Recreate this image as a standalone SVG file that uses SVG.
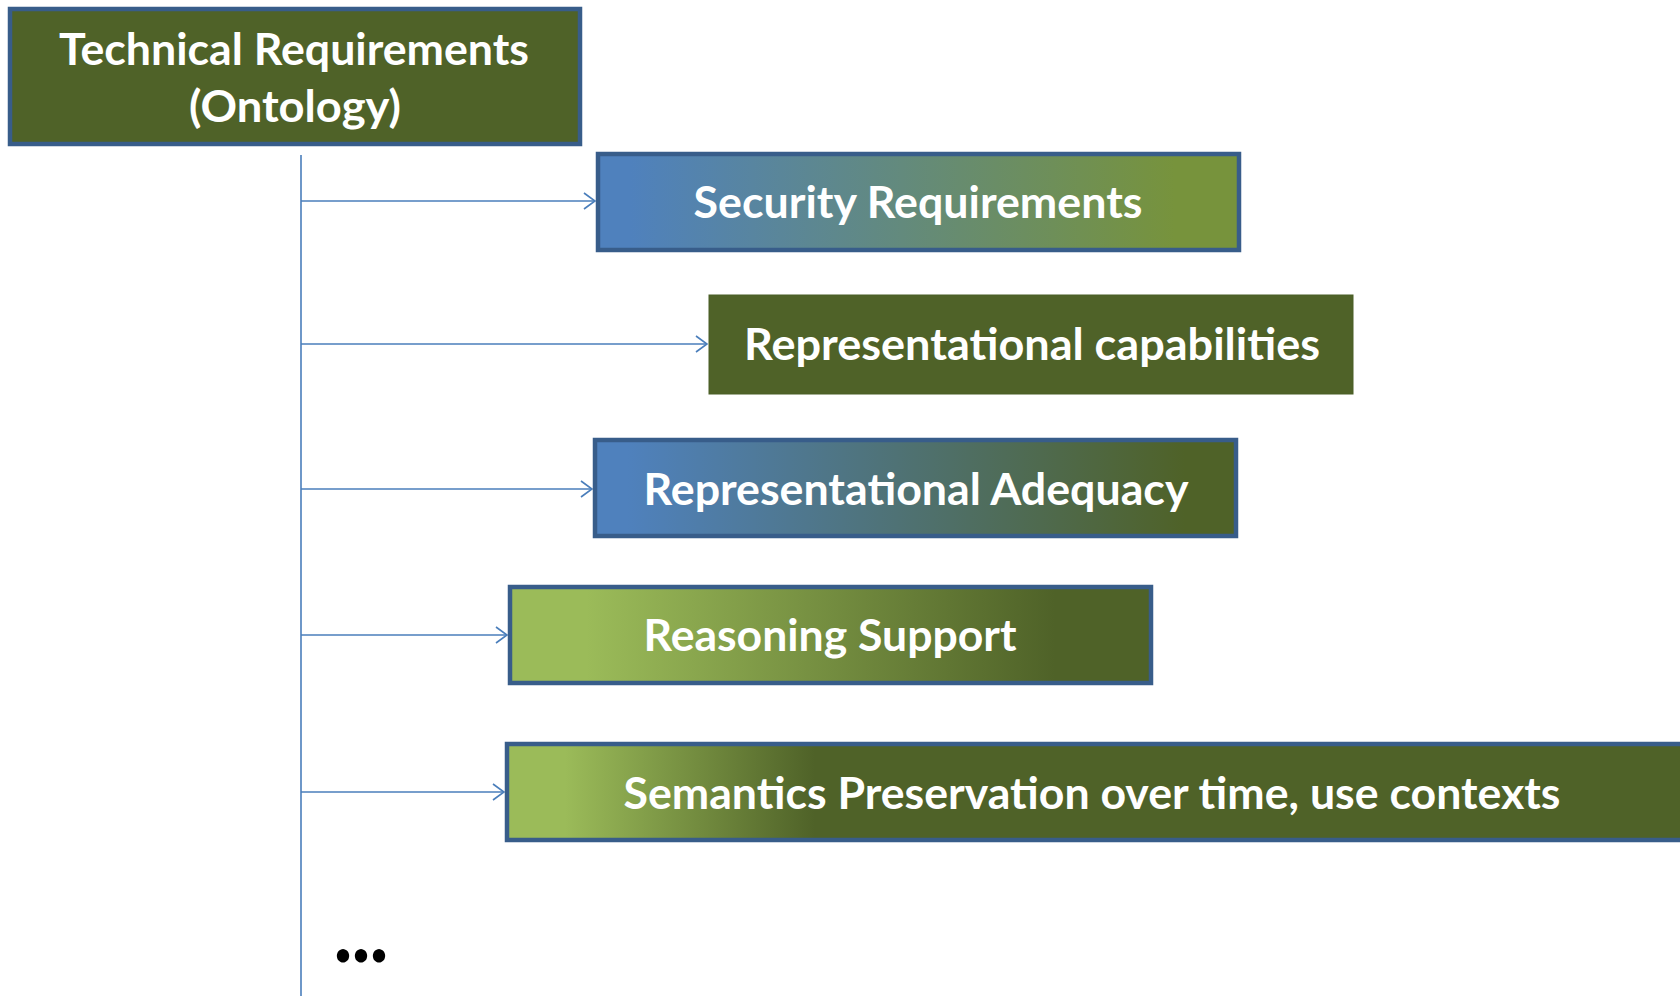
<svg xmlns="http://www.w3.org/2000/svg" width="1680" height="996" viewBox="0 0 1680 996">
<style>
.box{stroke:#385D8A;stroke-width:4.5}
.lbl{font-family:Lato,"Open Sans","Liberation Sans",sans-serif;font-weight:bold;font-size:44px;fill:#FFFFFF;text-anchor:middle}
.conn{stroke:#4A7EBB;stroke-width:1.6;fill:none}
</style>
<defs>
<marker id="arr" markerWidth="14" markerHeight="20" refX="13" refY="10" orient="auto" markerUnits="userSpaceOnUse">
<path d="M2,2 L13,10 L2,18" fill="none" stroke="#4A7EBB" stroke-width="1.6"/>
</marker>
<linearGradient id="g1" x1="0" y1="0" x2="1" y2="0">
<stop offset="0.05" stop-color="#4F81BD"/><stop offset="0.9" stop-color="#77933C"/>
</linearGradient>
<linearGradient id="g3" x1="0" y1="0" x2="1" y2="0">
<stop offset="0.05" stop-color="#4F81BD"/><stop offset="0.92" stop-color="#4F6228"/>
</linearGradient>
<linearGradient id="g4" x1="0" y1="0" x2="1" y2="0">
<stop offset="0.12" stop-color="#9BBB59"/><stop offset="0.85" stop-color="#4F6228"/>
</linearGradient>
<linearGradient id="g5" gradientUnits="userSpaceOnUse" x1="565" y1="0" x2="815" y2="0">
<stop offset="0" stop-color="#9BBB59"/><stop offset="1" stop-color="#4F6228"/>
</linearGradient>
</defs>
<g id="connectors">
<line class="conn" x1="301" y1="155" x2="301" y2="996"/>
<line class="conn" x1="301" y1="201" x2="595" y2="201" marker-end="url(#arr)"/>
<line class="conn" x1="301" y1="344" x2="707" y2="344" marker-end="url(#arr)"/>
<line class="conn" x1="301" y1="489" x2="592" y2="489" marker-end="url(#arr)"/>
<line class="conn" x1="301" y1="635" x2="507" y2="635" marker-end="url(#arr)"/>
<line class="conn" x1="301" y1="792" x2="504" y2="792" marker-end="url(#arr)"/>
</g>
<g id="root">
<rect class="box" x="10" y="9" width="570" height="135" fill="#4F6228"/>
<text class="lbl" x="294" y="65" textLength="470" lengthAdjust="spacingAndGlyphs">Technical Requirements</text>
<text class="lbl" x="295" y="122" textLength="212" lengthAdjust="spacingAndGlyphs">(Ontology)</text>
</g>
<g id="n1">
<rect class="box" x="598" y="154" width="641" height="96" fill="url(#g1)"/>
<text class="lbl" x="918" y="218" textLength="449" lengthAdjust="spacingAndGlyphs">Security Requirements</text>
</g>
<g id="n2">
<rect x="709" y="295" width="644" height="99" fill="#4F6228" stroke="#4A5E26" stroke-width="1"/>
<text class="lbl" x="1032" y="360" textLength="576" lengthAdjust="spacingAndGlyphs">Representational capabilities</text>
</g>
<g id="n3">
<rect class="box" x="595" y="440" width="641" height="96" fill="url(#g3)"/>
<text class="lbl" x="916" y="505" textLength="545" lengthAdjust="spacingAndGlyphs">Representational Adequacy</text>
</g>
<g id="n4">
<rect class="box" x="510" y="587" width="641" height="96" fill="url(#g4)"/>
<text class="lbl" x="830" y="651" textLength="373" lengthAdjust="spacingAndGlyphs">Reasoning Support</text>
</g>
<g id="n5">
<rect class="box" x="507" y="744" width="1230" height="96" fill="url(#g5)"/>
<text class="lbl" x="1092" y="809" textLength="937" lengthAdjust="spacingAndGlyphs">Semantics Preservation over time, use contexts</text>
</g>
<g id="more">
<text x="361" y="962" font-family="Lato,'Liberation Sans',sans-serif" font-weight="900" font-size="84" fill="#000000" text-anchor="middle" textLength="54" lengthAdjust="spacingAndGlyphs">...</text>
</g>
</svg>
